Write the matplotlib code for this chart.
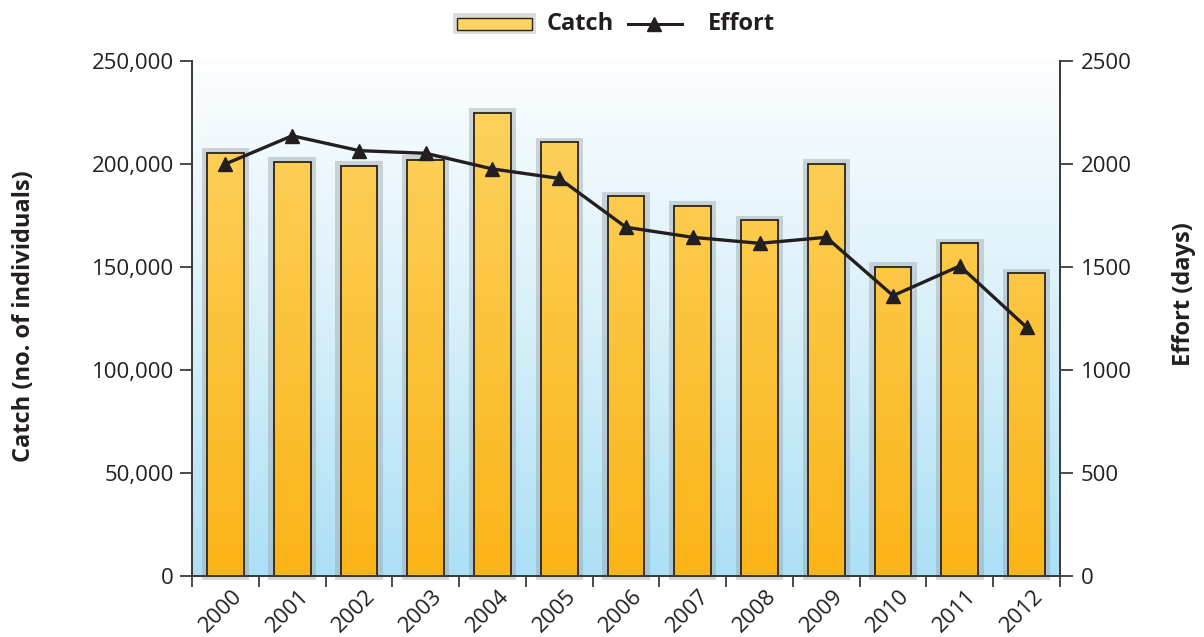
import numpy as np
import matplotlib
matplotlib.use("Agg")
import matplotlib.pyplot as plt
from matplotlib.colors import LinearSegmentedColormap
from matplotlib.patches import Rectangle
from matplotlib.lines import Line2D
import matplotlib.transforms as mtransforms
from matplotlib.ticker import FuncFormatter

years = ["2000", "2001", "2002", "2003", "2004", "2005", "2006",
         "2007", "2008", "2009", "2010", "2011", "2012"]
catch = [205500, 201000, 199000, 202000, 225000, 210500, 184300,
         179800, 172700, 200100, 149900, 161500, 146900]
effort = [2000, 2137, 2065, 2052, 1976, 1930, 1693,
          1644, 1615, 1644, 1361, 1505, 1207]
catch_ticks = [0, 50000, 100000, 150000, 200000, 250000]
effort_ticks = [0, 500, 1000, 1500, 2000, 2500]

plt.rcParams['font.family'] = ['Open Sans', 'DejaVu Sans']
TXT = "#231f20"
AX = "#3c3c3c"
W, H = 1204, 637

fig = plt.figure(figsize=(W/100, H/100), dpi=100)
ax = fig.add_axes([192/W, 1-576/H, (1060-192)/W, (576-61)/H])
n = len(years)
ax.set_xlim(-0.5, n-0.5)
ax.set_ylim(0, 250000)

# background gradient
bg = LinearSegmentedColormap.from_list("bg", ["#ace0f6", "#d8f0fa", "#fdfeff"])
grad = np.linspace(0, 1, 256).reshape(-1, 1)
ax.imshow(grad, cmap=bg, origin="lower", aspect="auto",
          extent=(-0.5, n-0.5, 0, 250000), zorder=0)

# bar halos
x = np.arange(n)
for xi, v in zip(x, catch):
    ax.add_patch(Rectangle((xi-0.355, -2000), 0.71, v+2000+2300,
                           facecolor="#9ea5ab", alpha=0.45, edgecolor="none",
                           zorder=1, clip_on=False))

# bars with gradient fill
bars = ax.bar(x, catch, width=0.55, facecolor="none", edgecolor="#2a2418",
              linewidth=1.3, zorder=3)
barcm = LinearSegmentedColormap.from_list("bar", ["#fbb417", "#fdd565"])
for b in bars:
    im = ax.imshow(grad, cmap=barcm, origin="lower", aspect="auto",
                   extent=(-0.5, n-0.5, 0, 250000), zorder=2)
    im.set_clip_path(b)
ax.set_xlim(-0.5, n-0.5)
ax.set_ylim(0, 250000)

# axes styling
ax.spines["top"].set_visible(False)
for s in ["left", "right", "bottom"]:
    ax.spines[s].set_color(AX)
    ax.spines[s].set_linewidth(1.4)
    ax.spines[s].set_zorder(5)

ax.set_yticks(catch_ticks)
ax.yaxis.set_major_formatter(FuncFormatter(lambda v, p: f"{int(v):,}"))
ax.tick_params(axis="y", direction="out", length=9, width=1.3, color=AX,
               labelsize=16, labelcolor=TXT, pad=4)

ax.set_xticks(np.arange(-0.5, n), minor=False)
ax.set_xticklabels([])
ax.set_xticks(x, minor=True)
ax.set_xticklabels(years, minor=True, rotation=45, ha="right", va="top",
                   rotation_mode="anchor", fontsize=16, color=TXT)
ax.tick_params(axis="x", which="major", direction="out", length=8, width=1.3,
               color=AX)
ax.tick_params(axis="x", which="minor", length=0, pad=7)
offset = mtransforms.ScaledTranslation(6/100, 0, fig.dpi_scale_trans)
for lab in ax.xaxis.get_minorticklabels():
    lab.set_transform(lab.get_transform() + offset)

ax.set_ylabel("Catch (no. of individuals)", fontsize=17, fontweight="bold",
              color=TXT, va="center")
ax.yaxis.set_label_coords((24-192)/868, (576-316)/515)

# effort line
ax2 = ax.twinx()
ax2.set_ylim(0, 2500)
ax2.set_yticks(effort_ticks)
ax2.plot(x, effort, color=TXT, linewidth=2.4, marker="^", markersize=10,
         zorder=6, clip_on=False)
ax2.tick_params(axis="y", direction="out", length=9, width=1.3, color=AX,
                labelsize=16, labelcolor=TXT, pad=6)
ax2.spines["top"].set_visible(False)
for s in ["left", "right", "bottom"]:
    ax2.spines[s].set_color(AX)
    ax2.spines[s].set_linewidth(1.4)
ax2.set_ylabel("Effort (days)", fontsize=17, fontweight="bold", color=TXT,
               rotation=90, va="center")
ax2.yaxis.set_label_coords((1184-192)/868, (576-294)/515)

# legend (drawn in figure pixel coordinates)
def fx(px):
    return px / W

def fy(py):
    return 1 - py / H

fig.add_artist(Rectangle((fx(453), fy(34)), fx(536) - fx(453), fy(13) - fy(34),
                         transform=fig.transFigure, facecolor="#dcdcdc",
                         edgecolor="none"))
fig.add_artist(Rectangle((fx(457), fy(29.5)), fx(532) - fx(457), fy(18) - fy(29.5),
                         transform=fig.transFigure, facecolor="#fdd565",
                         edgecolor="#2a2418", linewidth=1.0))
fig.text(fx(547), fy(23.5), "Catch", fontsize=17, fontweight="bold",
         color=TXT, ha="left", va="center")
fig.add_artist(Line2D([fx(628), fx(682)], [fy(23.5), fy(23.5)],
                      transform=fig.transFigure, color=TXT, linewidth=2.2))
fig.add_artist(Line2D([fx(654)], [fy(23.5)], transform=fig.transFigure,
                      color=TXT, marker="^", markersize=10, linestyle="none"))
fig.text(fx(708), fy(23.5), "Effort", fontsize=17, fontweight="bold",
         color=TXT, ha="left", va="center")

fig.savefig("out.png", dpi=100)
